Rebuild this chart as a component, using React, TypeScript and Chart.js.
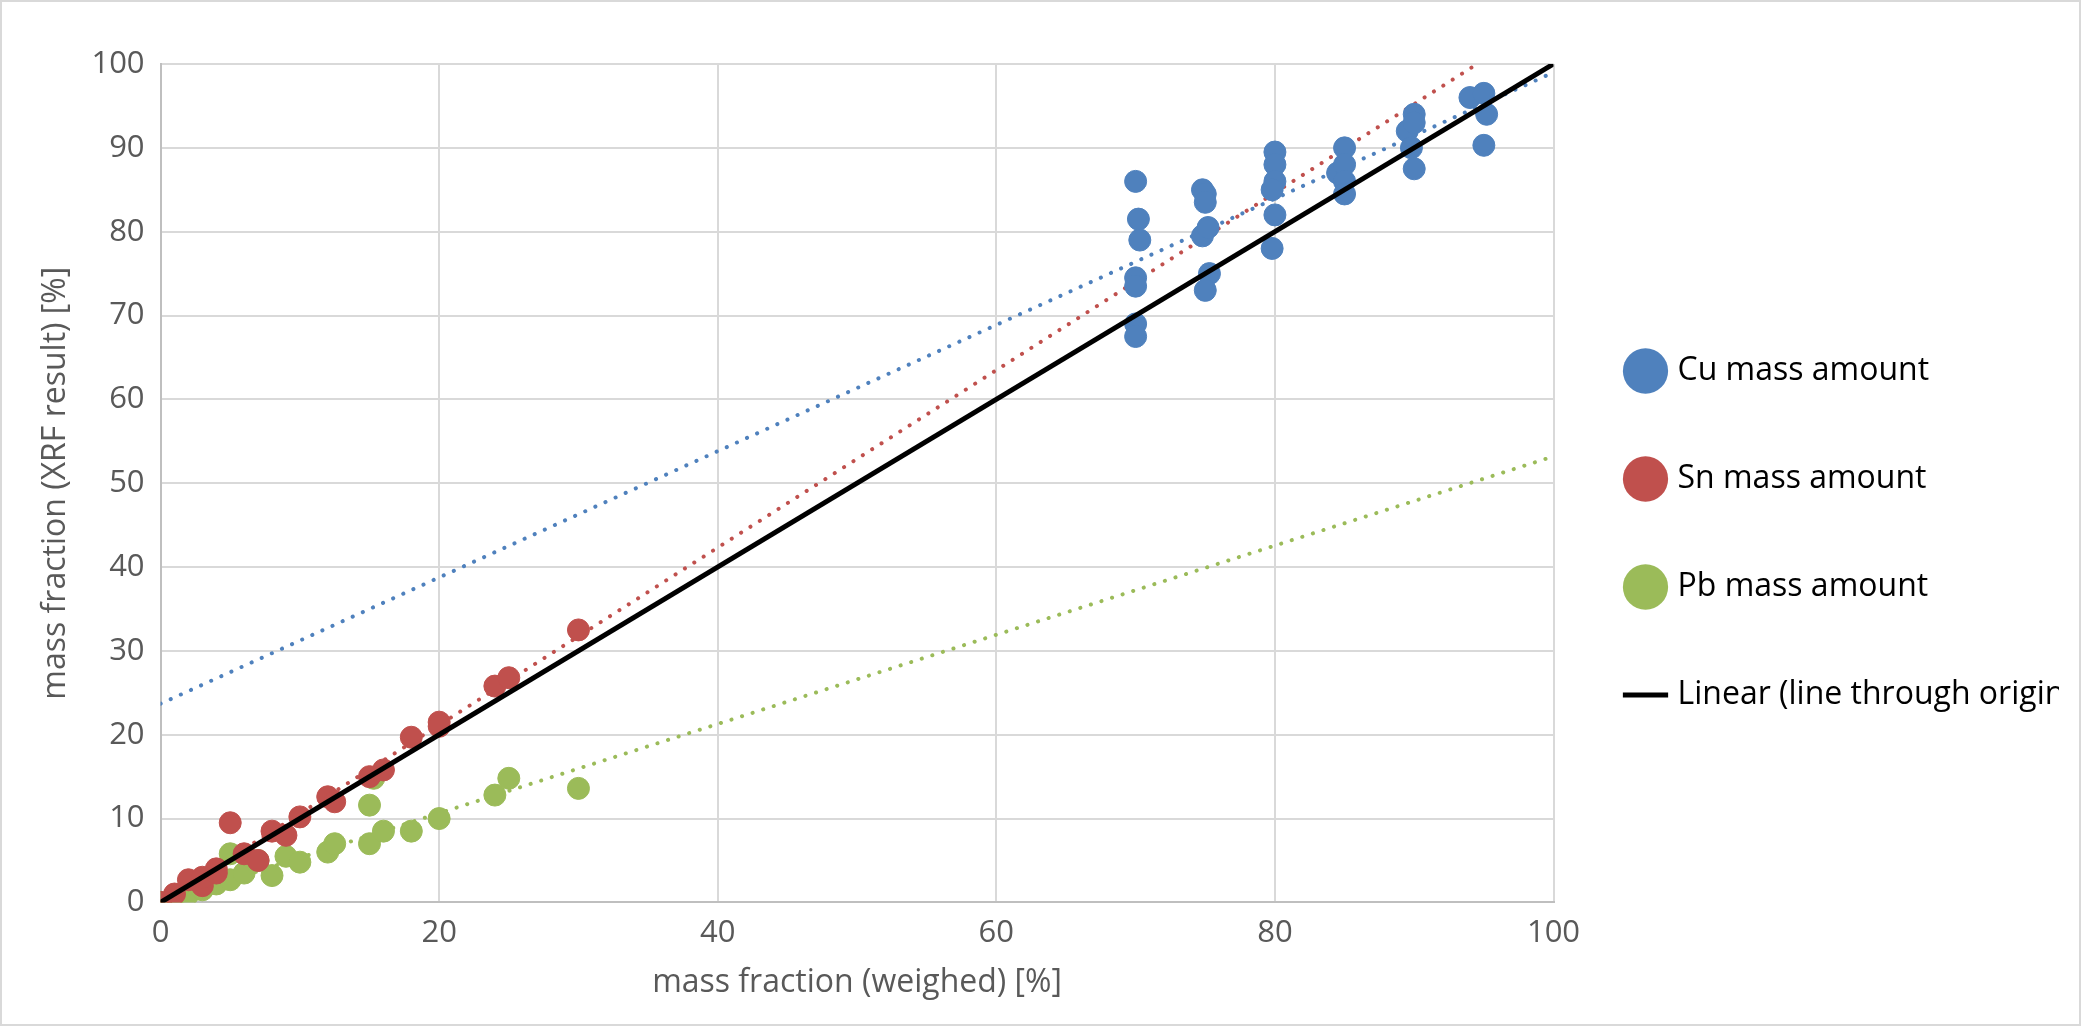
import React, { useEffect, useRef } from "react";
import { Chart, registerables } from "chart.js";
Chart.register(...registerables);

const cuX = [70,70.2,70.3,70,70,70,70,74.8,75,75,74.8,75.2,75.3,75,80,80,80,79.8,80,79.8,84.5,85,85,85,85,89.5,90,90,89.8,90,94,95,95.2,95];
const cuY = [86,81.5,79,74.5,73.5,69,67.5,85,84.5,83.5,79.5,80.5,75,73,89.5,88,86,85,82,78,87,90,88,86,84.5,92,94,93,90,87.5,96,96.5,94,90.3];
const snX = [0,1,2,3,3,4,4,5,6,7,8,9,10,12,12.5,15,16,18,20,20,24,25,30];
const snY = [0,1,2.7,2,3,3.5,4,9.5,5.8,5,8.5,8,10.2,12.6,12,15,15.8,19.7,21.5,21,25.8,26.8,32.5];
const pbX = [0,1,2,3,4,5,5,6,7,8,9,10,12,12.5,15,15,15.3,16,18,20,24,25,30];
const pbY = [0,0.8,1,1.5,2.2,5.8,2.7,3.5,5,3.2,5.5,4.8,6,7,7,11.6,14.8,8.5,8.5,10,12.8,14.8,13.6];
const cuTrend = { slope: 0.753, intercept: 23.7 };
const snTrend = { slope: 1.058, intercept: 0 };
const pbTrend = { slope: 0.532, intercept: 0 };
const xTicks = [0, 20, 40, 60, 80, 100];

const BLUE = "#4f81bd", RED = "#c0504d", GREEN = "#9bbb59";
const pts = (xs: number[], ys: number[]) => xs.map((x, i) => ({ x, y: ys[i] }));
const trend = (t: { slope: number; intercept: number }, xEnd: number) => [
  { x: 0, y: t.intercept }, { x: xEnd, y: t.intercept + t.slope * xEnd },
];

export default function App() {
  const ref = useRef<HTMLCanvasElement>(null);
  useEffect(() => {
    document.body.style.margin = "0";
    const font = "'Open Sans', Calibri, sans-serif";
    const sc = (label: string, c: string, data: any) => ({
      type: "scatter" as const, label, data, backgroundColor: c, borderColor: c,
      pointRadius: 11, pointHoverRadius: 11, order: 2,
    });
    const tl = (c: string, data: any) => ({
      type: "line" as const, label: "", data, borderColor: c, borderWidth: 4,
      borderDash: [0.1, 11], borderCapStyle: "round" as const, pointRadius: 0, order: 3,
    });
    const chart = new Chart(ref.current!, {
      type: "scatter",
      data: {
        datasets: [
          sc("Cu mass amount", BLUE, pts(cuX, cuY)),
          sc("Sn mass amount", RED, pts(snX, snY)),
          sc("Pb mass amount", GREEN, pts(pbX, pbY)),
          { type: "line", label: "Linear (line through origin)", data: [{ x: 0, y: 0 }, { x: 100, y: 100 }],
            borderColor: "#000", backgroundColor: "#000", borderWidth: 5, pointRadius: 0, pointStyle: "line", order: 1 } as any,
          tl(BLUE, trend(cuTrend, 100)),
          tl(RED, trend(snTrend, 100)),
          tl(GREEN, trend(pbTrend, 100)),
        ] as any,
      },
      options: {
        animation: false, responsive: false,
        layout: { padding: { top: 62, left: 35, right: 20, bottom: 22 } },
        plugins: {
          tooltip: { enabled: false },
          legend: {
            position: "right",
            labels: {
              usePointStyle: true, filter: (i: any) => !!i.text, padding: 76,
              font: { family: font, size: 32 }, color: "#595959",
              generateLabels: (ch: any) => ch.data.datasets.map((d: any, i: number) => ({
                text: d.label, fillStyle: d.borderColor, strokeStyle: d.borderColor, lineWidth: i === 3 ? 5 : 0,
                pointStyle: i === 3 ? "line" : "circle", datasetIndex: i, hidden: false,
              })),
            },
          },
        },
        scales: {
          x: {
            type: "linear", min: 0, max: 100,
            afterBuildTicks: (a: any) => { a.ticks = xTicks.map((v) => ({ value: v })); },
            ticks: { font: { family: font, size: 31 }, color: "#595959", padding: 12 },
            grid: { color: "#d9d9d9", lineWidth: 2, drawTicks: false },
            border: { color: "#bfbfbf", width: 2 },
            title: { display: true, text: "mass fraction (weighed) [%]", font: { family: font, size: 32 }, color: "#595959", padding: 0 },
          },
          y: {
            min: 0, max: 100,
            ticks: { stepSize: 10, font: { family: font, size: 31 }, color: "#595959", padding: 16 },
            grid: { color: "#d9d9d9", lineWidth: 2, drawTicks: false },
            border: { color: "#bfbfbf", width: 2 },
            title: { display: true, text: "mass fraction (XRF result) [%]", font: { family: font, size: 32 }, color: "#595959", padding: 0 },
          },
        },
      },
    });
    return () => chart.destroy();
  }, []);
  return (
    <div style={{ width: 2081, height: 1026, boxSizing: "border-box", border: "2px solid #d9d9d9", background: "#fff" }}>
      <canvas ref={ref} width={2077} height={1022} />
    </div>
  );
}
